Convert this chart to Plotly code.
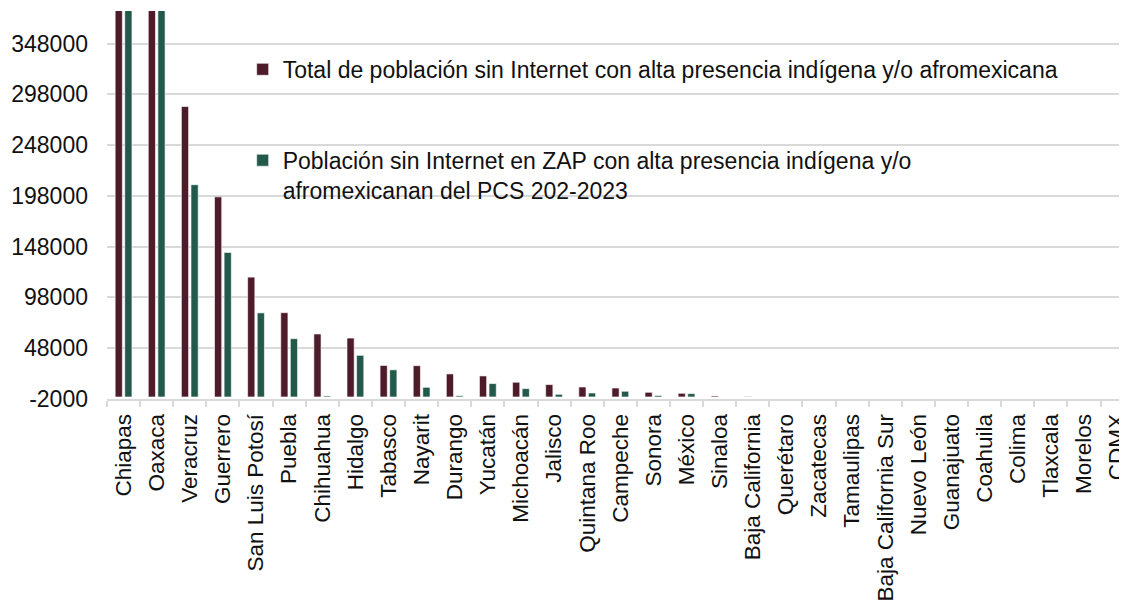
import plotly.graph_objects as go

# state names, ordered as in the source chart
estados = [
    "Chiapas", "Oaxaca", "Veracruz", "Guerrero", "San Luis Potosí", "Puebla",
    "Chihuahua", "Hidalgo", "Tabasco", "Nayarit", "Durango", "Yucatán",
    "Michoacán", "Jalisco", "Quintana Roo", "Campeche", "Sonora", "México",
    "Sinaloa", "Baja California", "Querétaro", "Zacatecas", "Tamaulipas",
    "Baja California Sur", "Nuevo León", "Guanajuato", "Coahuila", "Colima",
    "Tlaxcala", "Morelos", "CDMX",
]

# total population without internet (high indigenous / afro-mexican presence)
total_sin_internet = [
    560000, 520000, 286000, 197000, 118000, 83000,
    62000, 58000, 31000, 30800, 22700, 20700,
    14500, 12200, 9800, 8800, 4600, 3600,
    1000, 400, 0, 0, 0,
    0, 0, 0, 0, 0,
    0, 0, 0,
]

# population without internet in ZAP, PCS 2022-2023
zap_sin_internet = [
    470000, 450000, 209000, 142300, 82800, 57400,
    1000, 41000, 26700, 9500, 1200, 13200,
    8200, 2600, 3900, 5600, 1400, 3300,
    0, 0, 0, 0, 0,
    0, 0, 0, 0, 0,
    0, 0, 0,
]

y_ticks = list(range(-2000, 350000, 50000))

MAROON = "#4E1B2A"
GREEN = "#22594B"
GRID = "#D9D9D9"
FONT = "Liberation Sans, Arial, sans-serif"

fig = go.Figure()
fig.add_trace(go.Bar(
    x=estados, y=total_sin_internet,
    name="Total de población sin Internet con alta presencia indígena y/o afromexicana",
    marker=dict(color=MAROON, line=dict(color="white", width=0.6)),
    legendgroup="a",
))
fig.add_trace(go.Bar(
    x=estados, y=zap_sin_internet,
    name="Población sin Internet en ZAP con alta presencia indígena y/o<br>afromexicanan del PCS 202-2023",
    marker=dict(color=GREEN, line=dict(color="white", width=0.6)),
    legendgroup="b",
))

# the page body adds an 8px margin, so the figure is sized/offset to compensate
fig.update_layout(
    width=1119, height=596,
    margin=dict(l=99, r=0, t=3, b=205),
    plot_bgcolor="white",
    paper_bgcolor="white",
    font=dict(family=FONT, size=23, color="#111111"),
    barmode="group",
    bargap=0.42,
    bargroupgap=0.25,
    legend=dict(
        x=0.133, y=0.905, xanchor="left", yanchor="top",
        font=dict(size=23, color="#111111"),
        bgcolor="rgba(0,0,0,0)",
        tracegroupgap=58,
        valign="top",
        itemclick=False,
    ),
    showlegend=True,
)

fig.update_xaxes(
    type="category",
    range=[-0.5, 30.3],
    tickangle=-90,
    automargin=False,
    showline=True, linecolor=GRID, linewidth=2,
    ticks="outside", tickson="boundaries", ticklen=6, tickcolor=GRID, tickwidth=1.5,
    ticklabelstandoff=4,
    tickfont=dict(size=22.5),
    showgrid=False,
)
fig.update_yaxes(
    range=[-2000, 380000],
    tickvals=y_ticks,
    ticktext=[str(v) for v in y_ticks],
    automargin=False,
    showgrid=True, gridcolor=GRID, gridwidth=2,
    zeroline=False,
    showline=False,
    ticklabelstandoff=18,
    tickfont=dict(size=23),
)

fig.write_html("out.html")
